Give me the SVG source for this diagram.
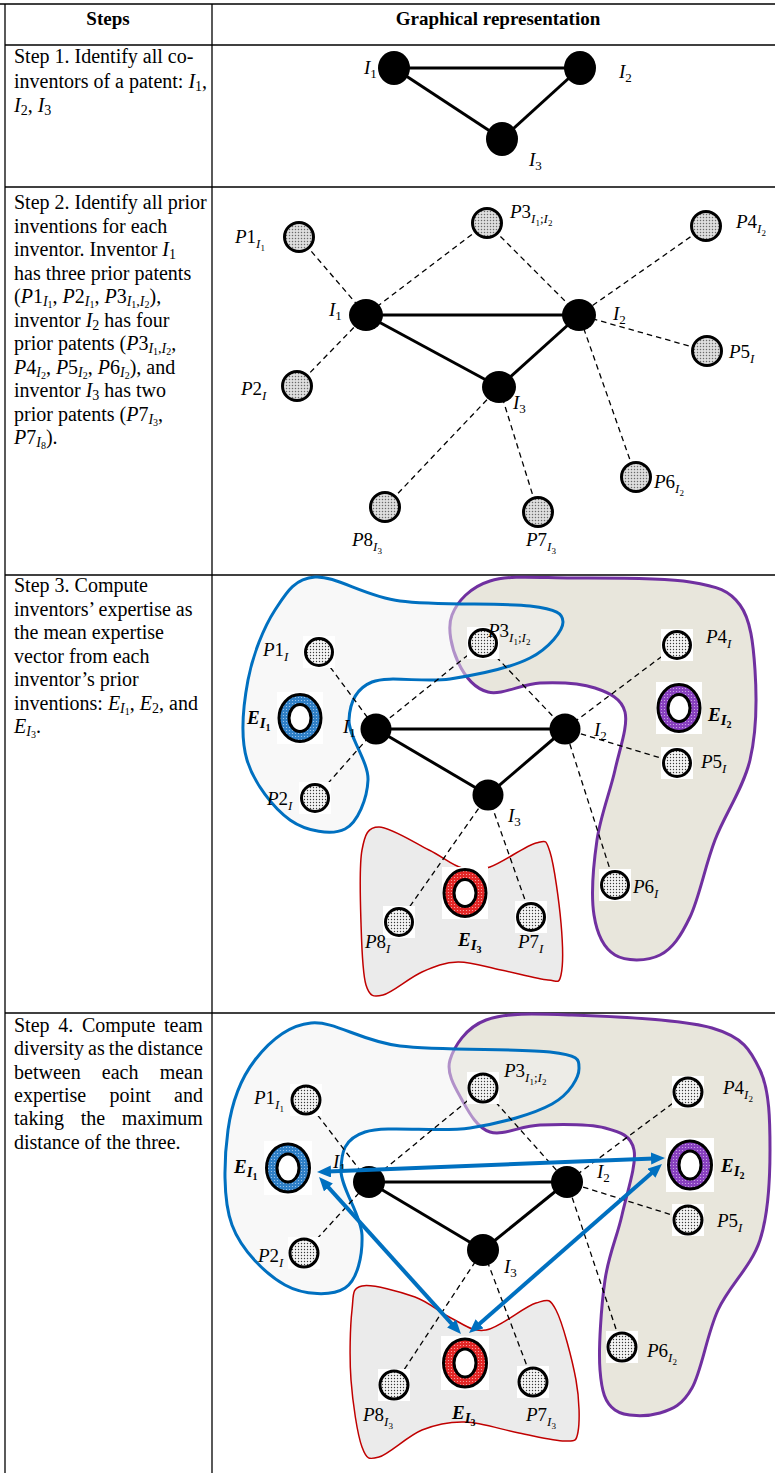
<svg xmlns="http://www.w3.org/2000/svg" width="775" height="1473" viewBox="0 0 775 1473">
<defs>
<pattern id="dotsA" width="3" height="3" patternUnits="userSpaceOnUse"><rect width="3" height="3" fill="#dedede"/><circle cx="1.5" cy="1.5" r="0.75" fill="#6a6a6a"/></pattern>
<pattern id="dotsB" width="3" height="3" patternUnits="userSpaceOnUse"><rect width="3" height="3" fill="#f4f4f4"/><circle cx="1.5" cy="1.5" r="0.7" fill="#3a3a3a"/></pattern>
<pattern id="dotBlue" width="3" height="3" patternUnits="userSpaceOnUse"><rect width="3" height="3" fill="#2f7fc6"/><circle cx="1.5" cy="1.5" r="0.6" fill="#a9cdef"/></pattern>
<pattern id="dotPurple" width="3" height="3" patternUnits="userSpaceOnUse"><rect width="3" height="3" fill="#8840bf"/><circle cx="1.5" cy="1.5" r="0.6" fill="#d2b4ea"/></pattern>
<pattern id="dotRed" width="3" height="3" patternUnits="userSpaceOnUse"><rect width="3" height="3" fill="#e32626"/><circle cx="1.5" cy="1.5" r="0.6" fill="#f6b0b0"/></pattern>
<marker id="ah" viewBox="0 0 14 12" refX="3" refY="6" markerWidth="14" markerHeight="12" markerUnits="userSpaceOnUse" orient="auto-start-reverse"><path d="M0,0 L14,6 L0,12 Z" fill="#0070c0"/></marker>
</defs>
<style>
.t{font-family:"Liberation Serif","Times New Roman",serif;font-size:20px;fill:#000}
.h{font-family:"Liberation Serif","Times New Roman",serif;font-size:19px;font-weight:bold;text-anchor:middle}
.it{font-style:italic}
.sb{font-size:14px}
.s2{font-size:10px}
.grid{stroke:#000;stroke-width:1.3;fill:none}
.inv{fill:#000}
.edge{stroke:#000;stroke-width:3}
.dash{stroke:#000;stroke-width:1.3;stroke-dasharray:5.5 4;fill:none}
.patA{fill:url(#dotsA);stroke:#000;stroke-width:3}
.patB{fill:url(#dotsB);stroke:#000;stroke-width:3}
.box{fill:#fff}
.m{font-family:"Liberation Serif","Times New Roman",serif;font-size:19px;font-style:italic}
.n{font-style:normal}
.s{font-size:13px}
.ss{font-size:9px;font-style:normal}
.e{font-family:"Liberation Serif","Times New Roman",serif;font-size:19px;font-style:italic;font-weight:bold}
.es{font-size:15px}
.ess{font-size:10px;font-style:normal}
.ring{stroke:#000;stroke-width:3}
.hole{fill:#fff;stroke:#000;stroke-width:3}
.arrow{stroke:#0070c0;stroke-width:4;fill:none;marker-start:url(#ah);marker-end:url(#ah)}
.bb{fill:#f2f2f2;fill-opacity:0.5;stroke:#0070c0;stroke-width:3}
.pb{fill:#e8e6dc;stroke:#7030a0;stroke-width:3}
.rb{fill:#ebebeb;stroke:#c00000;stroke-width:1.5}
</style>
<rect width="775" height="1473" fill="#fff"/>

<g id="table">
<line class="grid" x1="0" y1="4" x2="775" y2="4"/>
<line class="grid" x1="5" y1="4" x2="5" y2="1473"/>
<line class="grid" x1="212" y1="4" x2="212" y2="1473"/>
<line class="grid" x1="5" y1="45" x2="775" y2="45"/>
<line class="grid" x1="5" y1="187" x2="775" y2="187"/>
<line class="grid" x1="5" y1="575" x2="775" y2="575" stroke-width="2"/>
<line class="grid" x1="5" y1="1013" x2="775" y2="1013"/>
<text class="h" x="108" y="25">Steps</text>
<text class="h" x="498" y="25">Graphical representation</text>
</g>

<g id="step-texts">
<text class="t" x="14" y="63">Step 1. Identify all co-</text>
<text class="t" x="14" y="88">inventors of a patent: <tspan class="it">I</tspan><tspan class="sb" dy="3">1</tspan><tspan dy="-3">,</tspan></text>
<text class="t" x="14" y="112"><tspan class="it">I</tspan><tspan class="sb" dy="3">2</tspan><tspan dy="-3">, </tspan><tspan class="it">I</tspan><tspan class="sb" dy="3">3</tspan></text>

<text class="t" x="14" y="209">Step 2. Identify all prior</text>
<text class="t" x="14" y="232.5">inventions for each</text>
<text class="t" x="14" y="256">inventor. Inventor <tspan class="it">I</tspan><tspan class="sb" dy="3">1</tspan></text>
<text class="t" x="14" y="279.5">has three prior patents</text>
<text class="t" x="14" y="303">(<tspan class="it">P</tspan>1<tspan class="sb it" dy="3">I</tspan><tspan class="s2" dy="2">1</tspan><tspan dy="-5">, </tspan><tspan class="it">P</tspan>2<tspan class="sb it" dy="3">I</tspan><tspan class="s2" dy="2">1</tspan><tspan dy="-5">, </tspan><tspan class="it">P</tspan>3<tspan class="sb it" dy="3">I</tspan><tspan class="s2" dy="2">1</tspan><tspan class="sb" dy="-2">,</tspan><tspan class="sb it">I</tspan><tspan class="s2" dy="2">2</tspan><tspan dy="-5">),</tspan></text>
<text class="t" x="14" y="326.5">inventor <tspan class="it">I</tspan><tspan class="sb" dy="3">2</tspan><tspan dy="-3"> has four</tspan></text>
<text class="t" x="14" y="350">prior patents (<tspan class="it">P</tspan>3<tspan class="sb it" dy="3">I</tspan><tspan class="s2" dy="2">1</tspan><tspan class="sb" dy="-2">,</tspan><tspan class="sb it">I</tspan><tspan class="s2" dy="2">2</tspan><tspan dy="-5">,</tspan></text>
<text class="t" x="14" y="373.5"><tspan class="it">P</tspan>4<tspan class="sb it" dy="3">I</tspan><tspan class="s2" dy="2">2</tspan><tspan dy="-5">, </tspan><tspan class="it">P</tspan>5<tspan class="sb it" dy="3">I</tspan><tspan class="s2" dy="2">2</tspan><tspan dy="-5">, </tspan><tspan class="it">P</tspan>6<tspan class="sb it" dy="3">I</tspan><tspan class="s2" dy="2">2</tspan><tspan dy="-5">), and</tspan></text>
<text class="t" x="14" y="397">inventor <tspan class="it">I</tspan><tspan class="sb" dy="3">3</tspan><tspan dy="-3"> has two</tspan></text>
<text class="t" x="14" y="420.5">prior patents (<tspan class="it">P</tspan>7<tspan class="sb it" dy="3">I</tspan><tspan class="s2" dy="2">3</tspan><tspan dy="-5">,</tspan></text>
<text class="t" x="14" y="444"><tspan class="it">P</tspan>7<tspan class="sb it" dy="3">I</tspan><tspan class="s2" dy="2">8</tspan><tspan dy="-5">).</tspan></text>

<text class="t" x="14" y="592">Step 3. Compute</text>
<text class="t" x="14" y="615.5">inventors’ expertise as</text>
<text class="t" x="14" y="639">the mean expertise</text>
<text class="t" x="14" y="662.5">vector from each</text>
<text class="t" x="14" y="686">inventor’s prior</text>
<text class="t" x="14" y="709.5">inventions: <tspan class="it">E</tspan><tspan class="sb it" dy="3">I</tspan><tspan class="s2" dy="2">1</tspan><tspan dy="-5">, </tspan><tspan class="it">E</tspan><tspan class="sb" dy="3">2</tspan><tspan dy="-3">, and</tspan></text>
<text class="t" x="14" y="733"><tspan class="it">E</tspan><tspan class="sb it" dy="3">I</tspan><tspan class="s2" dy="2">3</tspan><tspan dy="-5">.</tspan></text>

<text class="t" x="14" y="1032" word-spacing="3.7">Step 4. Compute team</text>
<text class="t" x="14" y="1055.3" word-spacing="-0.9">diversity as the distance</text>
<text class="t" x="14" y="1078.6" word-spacing="16.2">between each mean</text>
<text class="t" x="14" y="1102" word-spacing="18.4">expertise point and</text>
<text class="t" x="14" y="1125.3" word-spacing="11.7">taking the maximum</text>
<text class="t" x="14" y="1148.6">distance of the three.</text>
</g>

<!-- ===== Step 1 ===== -->
<g id="s1-connectors">
<line class="edge" x1="394" y1="68" x2="580" y2="68"/>
<line class="edge" x1="394" y1="68" x2="502" y2="139"/>
<line class="edge" x1="580" y1="68" x2="502" y2="139"/>
</g>
<g id="s1-I1"><ellipse class="inv" cx="394" cy="68" rx="16" ry="17"/><text class="m" x="364" y="74">I<tspan class="n s" dy="4">1</tspan></text></g>
<g id="s1-I2"><ellipse class="inv" cx="580" cy="68" rx="16" ry="17"/><text class="m" x="619" y="78">I<tspan class="n s" dy="4">2</tspan></text></g>
<g id="s1-I3"><ellipse class="inv" cx="502" cy="139" rx="16" ry="17"/><text class="m" x="529" y="166">I<tspan class="n s" dy="4">3</tspan></text></g>

<!-- ===== Step 2 ===== -->
<g id="s2-connectors">
<line class="dash" x1="299" y1="237" x2="366" y2="315"/>
<line class="dash" x1="297" y1="386" x2="366" y2="315"/>
<line class="dash" x1="487" y1="223" x2="366" y2="315"/>
<line class="dash" x1="487" y1="223" x2="579" y2="315"/>
<line class="dash" x1="706" y1="226" x2="579" y2="315"/>
<line class="dash" x1="707" y1="351" x2="579" y2="315"/>
<line class="dash" x1="636" y1="477" x2="579" y2="315"/>
<line class="dash" x1="385" y1="507" x2="499" y2="387"/>
<line class="dash" x1="538" y1="512" x2="499" y2="387"/>
<line class="edge" x1="366" y1="315" x2="579" y2="315"/>
<line class="edge" x1="366" y1="315" x2="499" y2="387"/>
<line class="edge" x1="579" y1="315" x2="499" y2="387"/>
</g>
<g id="s2-I1"><ellipse class="inv" cx="366" cy="315" rx="17" ry="16"/><text class="m" x="329" y="316">I<tspan class="n s" dy="4">1</tspan></text></g>
<g id="s2-I2"><ellipse class="inv" cx="579" cy="315" rx="17" ry="16"/><text class="m" x="613" y="320">I<tspan class="n s" dy="4">2</tspan></text></g>
<g id="s2-I3"><ellipse class="inv" cx="499" cy="387" rx="17" ry="16"/><text class="m" x="513" y="409">I<tspan class="n s" dy="4">3</tspan></text></g>
<g id="s2-P1"><circle class="patA" cx="299" cy="237" r="14.5"/><text class="m" x="235" y="243">P<tspan class="n">1</tspan><tspan class="s" dy="5">I</tspan><tspan class="ss" dy="3">1</tspan></text></g>
<g id="s2-P3"><circle class="patA" cx="487" cy="223" r="14.5"/><text class="m" x="510" y="218">P<tspan class="n">3</tspan><tspan class="s" dy="5">I</tspan><tspan class="ss" dy="3">1</tspan><tspan class="s n" dy="-3">;</tspan><tspan class="s">I</tspan><tspan class="ss" dy="3">2</tspan></text></g>
<g id="s2-P4"><circle class="patA" cx="706" cy="226" r="14.5"/><text class="m" x="736" y="228">P<tspan class="n">4</tspan><tspan class="s" dy="5">I</tspan><tspan class="ss" dy="3">2</tspan></text></g>
<g id="s2-P5"><circle class="patA" cx="707" cy="351" r="14.5"/><text class="m" x="729" y="358">P<tspan class="n">5</tspan><tspan class="s" dy="5">I</tspan></text></g>
<g id="s2-P2"><circle class="patA" cx="297" cy="386" r="14.5"/><text class="m" x="241" y="395">P<tspan class="n">2</tspan><tspan class="s" dy="5">I</tspan></text></g>
<g id="s2-P6"><circle class="patA" cx="636" cy="477" r="14.5"/><text class="m" x="654" y="488">P<tspan class="n">6</tspan><tspan class="s" dy="5">I</tspan><tspan class="ss" dy="3">2</tspan></text></g>
<g id="s2-P8"><circle class="patA" cx="385" cy="507" r="14.5"/><text class="m" x="352" y="546">P<tspan class="n">8</tspan><tspan class="s" dy="5">I</tspan><tspan class="ss" dy="3">3</tspan></text></g>
<g id="s2-P7"><circle class="patA" cx="538" cy="512" r="14.5"/><text class="m" x="526" y="546">P<tspan class="n">7</tspan><tspan class="s" dy="5">I</tspan><tspan class="ss" dy="3">3</tspan></text></g>

<!-- ===== Step 3 ===== -->
<g id="s3-groups">
<path id="s3-group-I2" class="pb" d="M490,581 C510,574.8 538.7,577.8 572,578 C605.3,578.2 662,577.5 690,582 C718,586.5 729.2,590.3 740,605 C750.8,619.7 753.3,644.2 755,670 C756.7,695.8 756.7,731.7 750,760 C743.3,788.3 725,813.8 715,840 C705,866.2 699.2,897.8 690,917 C680.8,936.2 672.5,948.7 660,955 C647.5,961.3 626,961.7 615,955 C604,948.3 597,934.2 594,915 C591,895.8 593.5,864.2 597,840 C600.5,815.8 610.3,791.3 615,770 C619.7,748.7 628.3,725.7 625,712 C621.7,698.3 609.2,692.8 595,688 C580.8,683.2 557.8,682.3 540,683 C522.2,683.7 501.7,695.5 488,692 C474.3,688.5 464,674.8 458,662 C452,649.2 446.7,628.5 452,615 C457.3,601.5 470,587.2 490,581 Z"/>
<path id="s3-group-I1" class="bb" d="M315,577 C335.8,575.5 364.2,596.2 400,601 C435.8,605.8 502.8,602.5 530,606 C557.2,609.5 563,613.3 563,622 C563,630.7 548.8,648.5 530,658 C511.2,667.5 476.3,675 450,679 C423.7,683 388.8,675.2 372,682 C355.2,688.8 349.7,703.7 349,720 C348.3,736.3 368.7,761.8 368,780 C367.3,798.2 358,822.3 345,829 C332,835.7 306.3,831.5 290,820 C273.7,808.5 254,783.3 247,760 C240,736.7 243.3,705 248,680 C252.7,655 263.8,627.2 275,610 C286.2,592.8 294.2,578.5 315,577 Z"/>
<path id="s3-group-I3" class="rb" d="M379,827 C390.2,827 415.2,843.2 429,850 C442.8,856.8 451.8,865.2 462,868 C472.2,870.8 477.7,871.2 490,867 C502.3,862.8 526,845.5 536,843 C546,840.5 545.8,838.7 550,852 C554.2,865.3 559.2,902.5 561,923 C562.8,943.5 563.2,965.5 561,975 C558.8,984.5 558,980.8 548,980 C538,979.2 516,973 501,970 C486,967 471.2,961.7 458,962 C444.8,962.3 434.5,966.5 422,972 C409.5,977.5 392.3,992.8 383,995 C373.7,997.2 369.7,997 366,985 C362.3,973 361.7,945.5 361,923 C360.3,900.5 359,866 362,850 C365,834 367.8,827 379,827 Z"/>
</g>
<g id="s3-connectors">
<line class="dash" x1="319" y1="652" x2="376" y2="729"/>
<line class="dash" x1="315" y1="798" x2="376" y2="729"/>
<line class="dash" x1="483" y1="643" x2="376" y2="729"/>
<line class="dash" x1="483" y1="643" x2="565" y2="729"/>
<line class="dash" x1="677" y1="645" x2="565" y2="729"/>
<line class="dash" x1="677" y1="763" x2="565" y2="729"/>
<line class="dash" x1="615" y1="885" x2="565" y2="729"/>
<line class="dash" x1="399" y1="922" x2="488" y2="795"/>
<line class="dash" x1="531" y1="917" x2="488" y2="795"/>
<line class="edge" x1="376" y1="729" x2="565" y2="729"/>
<line class="edge" x1="376" y1="729" x2="488" y2="795"/>
<line class="edge" x1="565" y1="729" x2="488" y2="795"/>
</g>
<g id="s3-I1"><circle class="inv" cx="376" cy="729" r="15.5"/><text class="m" x="343" y="733">I<tspan class="n s" dy="4">1</tspan></text></g>
<g id="s3-I2"><circle class="inv" cx="565" cy="729" r="15.5"/><text class="m" x="594" y="736">I<tspan class="n s" dy="4">2</tspan></text></g>
<g id="s3-I3"><circle class="inv" cx="488" cy="795" r="15.5"/><text class="m" x="508" y="822">I<tspan class="n s" dy="4">3</tspan></text></g>
<g id="s3-P1"><rect class="box" x="303" y="636" width="32" height="32"/><circle class="patB" cx="319" cy="652" r="13.5"/><text class="m" x="263" y="656">P<tspan class="n">1</tspan><tspan class="s" dy="5">I</tspan></text></g>
<g id="s3-P3"><rect class="box" x="467" y="627" width="32" height="32"/><circle class="patB" cx="483" cy="643" r="13.5"/><text class="m" x="488" y="637">P<tspan class="n">3</tspan><tspan class="s" dy="5">I</tspan><tspan class="ss" dy="3">1</tspan><tspan class="s n" dy="-3">;</tspan><tspan class="s">I</tspan><tspan class="ss" dy="3">2</tspan></text></g>
<g id="s3-P4"><rect class="box" x="661" y="629" width="32" height="32"/><circle class="patB" cx="677" cy="645" r="13.5"/><text class="m" x="706" y="643">P<tspan class="n">4</tspan><tspan class="s" dy="5">I</tspan></text></g>
<g id="s3-P5"><rect class="box" x="661" y="747" width="32" height="32"/><circle class="patB" cx="677" cy="763" r="13.5"/><text class="m" x="701" y="768">P<tspan class="n">5</tspan><tspan class="s" dy="5">I</tspan></text></g>
<g id="s3-P2"><rect class="box" x="299" y="782" width="32" height="32"/><circle class="patB" cx="315" cy="798" r="13.5"/><text class="m" x="267" y="805">P<tspan class="n">2</tspan><tspan class="s" dy="5">I</tspan></text></g>
<g id="s3-P6"><rect class="box" x="599" y="869" width="32" height="32"/><circle class="patB" cx="615" cy="885" r="13.5"/><text class="m" x="633" y="893">P<tspan class="n">6</tspan><tspan class="s" dy="5">I</tspan></text></g>
<g id="s3-P8"><rect class="box" x="383" y="906" width="32" height="32"/><circle class="patB" cx="399" cy="922" r="13.5"/><text class="m" x="365" y="948">P<tspan class="n">8</tspan><tspan class="s" dy="5">I</tspan></text></g>
<g id="s3-P7"><rect class="box" x="515" y="901" width="32" height="32"/><circle class="patB" cx="531" cy="917" r="13.5"/><text class="m" x="518" y="948">P<tspan class="n">7</tspan><tspan class="s" dy="5">I</tspan></text></g>
<g id="s3-E1"><rect class="box" x="277" y="692" width="46" height="52"/><ellipse class="ring" fill="url(#dotBlue)" cx="300" cy="718" rx="21" ry="23.5"/><ellipse class="hole" cx="300" cy="718" rx="11" ry="13.5"/><text class="e" x="247" y="724">E<tspan class="es" dy="4">I</tspan><tspan class="ess" dy="3">1</tspan></text></g>
<g id="s3-E2"><rect class="box" x="656" y="682" width="46" height="52"/><ellipse class="ring" fill="url(#dotPurple)" cx="679" cy="708" rx="21" ry="23.5"/><ellipse class="hole" cx="679" cy="708" rx="11" ry="13.5"/><text class="e" x="708" y="721">E<tspan class="es" dy="4">I</tspan><tspan class="ess" dy="3">2</tspan></text></g>
<g id="s3-E3"><rect class="box" x="442" y="867" width="46" height="52"/><ellipse class="ring" fill="url(#dotRed)" cx="465" cy="893" rx="21" ry="23.5"/><ellipse class="hole" cx="465" cy="893" rx="11" ry="13.5"/><text class="e" x="458" y="946">E<tspan class="es" dy="4">I</tspan><tspan class="ess" dy="3">3</tspan></text></g>

<!-- ===== Step 4 ===== -->
<g id="s4-groups">
<path id="s4-group-I2" class="pb" d="M486,1020 C506.3,1012.5 534.3,1013.7 572,1015 C609.7,1016.3 680.7,1018.8 712,1028 C743.3,1037.2 750.3,1049.7 760,1070 C769.7,1090.3 770,1121.7 770,1150 C770,1178.3 768.7,1213.3 760,1240 C751.3,1266.7 729.3,1285.3 718,1310 C706.7,1334.7 701.7,1370.8 692,1388 C682.3,1405.2 672.8,1409.3 660,1413 C647.2,1416.7 625,1417.2 615,1410 C605,1402.8 601.7,1391.7 600,1370 C598.3,1348.3 601.3,1305.8 605,1280 C608.7,1254.2 617.2,1236.7 622,1215 C626.8,1193.3 636.8,1164.5 634,1150 C631.2,1135.5 620.7,1132.2 605,1128 C589.3,1123.8 559.2,1124.3 540,1125 C520.8,1125.7 503,1136.2 490,1132 C477,1127.8 468.7,1112 462,1100 C455.3,1088 446,1073.3 450,1060 C454,1046.7 465.7,1027.5 486,1020 Z"/>
<path id="s4-group-I1" class="bb" d="M311,1023 C335.2,1020.7 360.2,1041.2 400,1046 C439.8,1050.8 520.2,1048.3 550,1052 C579.8,1055.7 578.7,1059.3 579,1068 C579.3,1076.7 570.2,1094 552,1104 C533.8,1114 501.2,1123.3 470,1128 C438.8,1132.7 386.5,1125 365,1132 C343.5,1139 341.5,1152.8 341,1170 C340.5,1187.2 361.3,1215.3 362,1235 C362.7,1254.7 357.8,1279.7 345,1288 C332.2,1296.3 303.8,1295.5 285,1285 C266.2,1274.5 241.5,1250.8 232,1225 C222.5,1199.2 224.2,1157.5 228,1130 C231.8,1102.5 241.2,1077.8 255,1060 C268.8,1042.2 286.8,1025.3 311,1023 Z"/>
<path id="s4-group-I3" class="rb" d="M362,1286 C372.5,1283.8 400.2,1291.7 415,1297 C429.8,1302.3 439.2,1312.5 451,1318 C462.8,1323.5 471.8,1332.5 486,1330 C500.2,1327.5 524.3,1306.3 536,1303 C547.7,1299.7 549.3,1297.2 556,1310 C562.7,1322.8 572.3,1359.7 576,1380 C579.7,1400.3 579.8,1421.8 578,1432 C576.2,1442.2 574.8,1440.8 565,1441 C555.2,1441.2 535.7,1436.2 519,1433 C502.3,1429.8 481.2,1422.5 465,1422 C448.8,1421.5 436.3,1424.2 422,1430 C407.7,1435.8 389,1454.2 379,1457 C369,1459.8 366.7,1459.8 362,1447 C357.3,1434.2 352.7,1402.8 351,1380 C349.3,1357.2 350.2,1325.7 352,1310 C353.8,1294.3 351.5,1288.2 362,1286 Z"/>
</g>
<g id="s4-connectors">
<line class="dash" x1="306" y1="1100" x2="369" y2="1182"/>
<line class="dash" x1="304" y1="1253" x2="369" y2="1182"/>
<line class="dash" x1="483" y1="1088" x2="369" y2="1182"/>
<line class="dash" x1="483" y1="1088" x2="567" y2="1182"/>
<line class="dash" x1="688" y1="1092" x2="567" y2="1182"/>
<line class="dash" x1="688" y1="1220" x2="567" y2="1182"/>
<line class="dash" x1="622" y1="1347" x2="567" y2="1182"/>
<line class="dash" x1="394" y1="1385" x2="483" y2="1250"/>
<line class="dash" x1="533" y1="1382" x2="483" y2="1250"/>
<line class="edge" x1="369" y1="1182" x2="567" y2="1182"/>
<line class="edge" x1="369" y1="1182" x2="483" y2="1250"/>
<line class="edge" x1="567" y1="1182" x2="483" y2="1250"/>
</g>
<g id="s4-I1"><circle class="inv" cx="369" cy="1182" r="16"/><text class="m" x="333" y="1168">I<tspan class="n s" dy="4">1</tspan></text></g>
<g id="s4-I2"><circle class="inv" cx="567" cy="1182" r="16"/><text class="m" x="597" y="1178">I<tspan class="n s" dy="4">2</tspan></text></g>
<g id="s4-I3"><circle class="inv" cx="483" cy="1250" r="16"/><text class="m" x="504" y="1273">I<tspan class="n s" dy="4">3</tspan></text></g>
<g id="s4-P1"><rect class="box" x="290" y="1084" width="32" height="32"/><circle class="patB" cx="306" cy="1100" r="14"/><text class="m" x="254" y="1104">P<tspan class="n">1</tspan><tspan class="s" dy="5">I</tspan><tspan class="ss" dy="3">1</tspan></text></g>
<g id="s4-P3"><rect class="box" x="467" y="1072" width="32" height="32"/><circle class="patB" cx="483" cy="1088" r="14"/><text class="m" x="504" y="1077">P<tspan class="n">3</tspan><tspan class="s" dy="5">I</tspan><tspan class="ss" dy="3">1</tspan><tspan class="s n" dy="-3">;</tspan><tspan class="s">I</tspan><tspan class="ss" dy="3">2</tspan></text></g>
<g id="s4-P4"><rect class="box" x="672" y="1076" width="32" height="32"/><circle class="patB" cx="688" cy="1092" r="14"/><text class="m" x="723" y="1094">P<tspan class="n">4</tspan><tspan class="s" dy="5">I</tspan><tspan class="ss" dy="3">2</tspan></text></g>
<g id="s4-P5"><rect class="box" x="672" y="1204" width="32" height="32"/><circle class="patB" cx="688" cy="1220" r="14"/><text class="m" x="717" y="1227">P<tspan class="n">5</tspan><tspan class="s" dy="5">I</tspan></text></g>
<g id="s4-P2"><rect class="box" x="288" y="1237" width="32" height="32"/><circle class="patB" cx="304" cy="1253" r="14"/><text class="m" x="258" y="1262">P<tspan class="n">2</tspan><tspan class="s" dy="5">I</tspan></text></g>
<g id="s4-P6"><rect class="box" x="606" y="1331" width="32" height="32"/><circle class="patB" cx="622" cy="1347" r="14"/><text class="m" x="647" y="1357">P<tspan class="n">6</tspan><tspan class="s" dy="5">I</tspan><tspan class="ss" dy="3">2</tspan></text></g>
<g id="s4-P8"><rect class="box" x="378" y="1369" width="32" height="32"/><circle class="patB" cx="394" cy="1385" r="14"/><text class="m" x="363" y="1421">P<tspan class="n">8</tspan><tspan class="s" dy="5">I</tspan><tspan class="ss" dy="3">3</tspan></text></g>
<g id="s4-P7"><rect class="box" x="517" y="1366" width="32" height="32"/><circle class="patB" cx="533" cy="1382" r="14"/><text class="m" x="526" y="1421">P<tspan class="n">7</tspan><tspan class="s" dy="5">I</tspan><tspan class="ss" dy="3">3</tspan></text></g>
<g id="s4-E1"><rect class="box" x="264" y="1141" width="48" height="54"/><ellipse class="ring" fill="url(#dotBlue)" cx="288" cy="1168" rx="21.5" ry="24"/><ellipse class="hole" cx="288" cy="1168" rx="11" ry="14"/><text class="e" x="234" y="1173">E<tspan class="es" dy="4">I</tspan><tspan class="ess" dy="3">1</tspan></text></g>
<g id="s4-E2"><rect class="box" x="666" y="1138" width="48" height="54"/><ellipse class="ring" fill="url(#dotPurple)" cx="690" cy="1165" rx="21.5" ry="24"/><ellipse class="hole" cx="690" cy="1165" rx="11" ry="14"/><text class="e" x="721" y="1172">E<tspan class="es" dy="4">I</tspan><tspan class="ess" dy="3">2</tspan></text></g>
<g id="s4-E3"><rect class="box" x="441" y="1336" width="48" height="54"/><ellipse class="ring" fill="url(#dotRed)" cx="465" cy="1363" rx="21.5" ry="24"/><ellipse class="hole" cx="465" cy="1363" rx="11" ry="14"/><text class="e" x="452" y="1419">E<tspan class="es" dy="4">I</tspan><tspan class="ess" dy="3">3</tspan></text></g>
<g id="s4-arrows">
<line class="arrow" x1="328" y1="1171.6" x2="654" y2="1158.4"/>
<line class="arrow" x1="326.4" y1="1185.2" x2="453.6" y2="1325.8"/>
<line class="arrow" x1="653.7" y1="1171.2" x2="477.3" y2="1325.7"/>
</g>
</svg>
